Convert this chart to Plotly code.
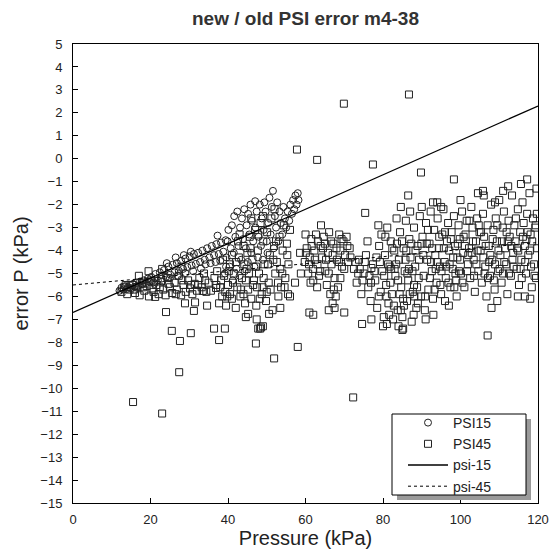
import plotly.graph_objects as go

# ---------------- data ----------------
# PSI15 (open circles)
psi15_x_a = [12.0,12.5,13.0,13.4,13.8,14.2,14.6,15.0,15.5,16.0,16.4,16.9,17.3,17.8,18.3,18.8,19.3,19.8]
psi15_y_a = [-5.75,-5.62,-5.70,-5.55,-5.68,-5.60,-5.50,-5.64,-5.45,-5.58,-5.40,-5.52,-5.35,-5.47,-5.30,-5.42,-5.22,-5.36]

psi15_x_b = [20.2,20.8,21.3,21.9,22.4,22.9,23.5,24.0,24.6,25.1,25.7,26.2,26.8,27.3,27.9,28.4,29.0,29.5,30.1,30.6,31.2,31.7,32.3,32.8,
             21.0,23.0,25.0,27.0,29.0,31.0,33.0,24.2,26.5,28.6,30.4]
psi15_y_b = [-5.15,-5.38,-5.02,-5.30,-4.95,-5.22,-4.85,-5.15,-4.70,-5.05,-4.62,-4.95,-4.55,-4.88,-4.45,-4.80,-4.35,-4.72,-4.25,-4.65,-4.15,-4.58,-4.10,-4.50,
             -5.45,-5.35,-5.20,-5.10,-4.98,-4.90,-4.78,-4.55,-4.30,-4.20,-4.05]

psi15_x_c = [33.4,34.0,34.6,35.2,35.8,36.4,37.0,37.6,38.2,38.8,39.4,34.2,35.5,36.8,38.0,39.5,37.3]
psi15_y_c = [-4.00,-4.40,-3.90,-4.30,-3.80,-4.20,-3.72,-4.15,-3.65,-4.05,-3.55,-4.60,-4.55,-4.50,-4.45,-4.70,-3.35]

psi15_x_d = [39.2,39.6,39.9,40.1,40.4,40.7,41.0,41.2,41.5,41.6,41.9,42.2,42.4,42.7,43.0,43.1,43.4,43.6,43.9,44.2,44.3,44.6,44.8,45.1,
             45.2,45.5,45.8,46.0,46.2,46.5,46.8,47.0,47.1,47.4,47.7,47.9,48.2,48.5,48.7,49.0,49.2,49.4,49.7,50.0,50.2,50.4,50.7,51.0,
             51.3,51.6,51.8,52.1,52.4,52.7,53.0,53.3,53.6,54.0,54.3,54.7,55.0,55.4,55.8,56.1,56.5,56.8,57.1,57.4,57.7,58.0,58.2]
psi15_y_d = [-5.0,-4.3,-3.6,-3.1,-4.7,-3.9,-2.9,-5.3,-4.1,-2.5,-3.4,-4.8,-2.3,-3.8,-5.1,-3.0,-4.4,-2.6,-3.5,-2.2,-4.9,-3.9,-2.9,-4.5,
             -2.4,-3.3,-2.0,-4.1,-2.7,-3.6,-4.7,-1.85,-3.0,-2.3,-4.3,-3.4,-2.0,-3.8,-2.6,-4.4,-3.1,-1.9,-2.3,-3.6,-4.1,-2.8,-1.7,-3.3,
             -2.1,-1.4,-3.9,-2.5,-3.0,-1.9,-3.6,-2.3,-2.8,-3.3,-2.1,-2.6,-3.0,-2.3,-2.7,-2.0,-2.4,-1.8,-2.2,-1.6,-2.0,-1.5,-1.8]

# PSI45 (open squares)
psi45_x_band = [12.5,13.2,14.0,14.6,15.3,16.0,16.6,17.2,17.8,18.4,19.0,19.6,20.2,20.8,21.5,22.1,22.7,23.3,23.9,24.4,25.0,25.6,26.2,26.8,
                27.3,27.9,28.5,29.1,29.7,30.2,30.8,31.4,32.0,32.6,33.2,33.8,34.4,35.0,19.5,23.0,17.0,28.0,
                13.6,15.7,18.1,20.5,22.4,24.7,26.5,28.2,30.5,32.3,34.1,35.6]
psi45_y_band = [-5.8,-5.6,-5.9,-5.7,-5.5,-5.85,-5.6,-5.95,-5.4,-5.75,-5.55,-6.0,-5.3,-5.8,-5.5,-5.9,-5.35,-5.7,-5.95,-5.2,-5.6,-5.85,-5.4,-5.7,
                -5.1,-5.95,-5.5,-5.8,-5.3,-5.65,-5.9,-5.45,-5.75,-5.2,-5.6,-5.0,-5.8,-5.4,-4.9,-4.8,-5.1,-4.7,
                -5.5,-5.7,-5.6,-5.65,-5.6,-5.45,-5.9,-5.3,-5.5,-5.5,-5.3,-5.75]

psi45_x_low = [21.2,24.0,25.5,27.6,30.4,27.4,28.9,31.5,31.2,34.6,37.7,36.4,39.2,37.7,15.5,23.0,36.9,33.5,40.5,45.2,47.2,47.4,51.9,58.0,
               72.3,85.0,107.0,47.8,48.5,44.6,50.6,48.3,49.0,56.0,61.0,62.0,70.0,74.6,77.0,80.0,85.2,97.0,108.0,114.8,116.6]
psi45_y_low = [-6.02,-6.68,-7.5,-7.94,-7.6,-9.3,-6.3,-6.26,-6.63,-6.4,-6.3,-7.4,-7.4,-7.9,-10.6,-11.1,-5.63,-5.76,-5.9,-6.76,-8.05,-7.0,-8.7,-8.2,
               -10.4,-7.46,-7.7,-7.4,-7.35,-6.9,-6.76,-7.4,-7.3,-6.0,-6.7,-6.8,-6.7,-7.2,-7.0,-7.3,-7.4,-6.4,-6.5,-6.0,-6.0]

psi45_x_high = [86.7,69.9,57.8,63.0,77.4,89.8,98.3,86.5,84.6,90.0,92.9,95.0,104.5,105.8,108.9,112.3,115.6,117.2,75.4,58.6,77.0]
psi45_y_high = [2.8,2.4,0.4,-0.05,-0.25,-0.6,-0.9,-1.6,-2.1,-2.1,-1.9,-2.1,-1.5,-1.4,-1.9,-1.2,-1.1,-0.9,-2.36,-4.1,-4.76]

psi45_x_mid = [36.5,37.2,38.0,38.5,39.0,39.5,40.0,40.5,41.0,41.5,42.0,42.4,42.8,43.2,43.6,44.0,44.4,44.8,45.2,45.6,46.0,46.3,46.7,47.0,
               47.3,47.7,48.0,48.4,48.7,49.1,49.4,49.8,50.1,50.5,50.8,51.2,51.5,51.9,52.2,52.6,53.0,53.3,53.7,54.1,54.4,54.8,55.2,55.6,
               56.0,46.0,43.0,49.0,52.0,45.0,47.5,50.0,41.0,44.0,53.5,55.5,38.7,
               37.0,38.2,39.3,40.2,41.3,42.1,43.3,44.2,45.4,46.5,47.2,48.2,49.2,50.3,51.0,52.4,53.5,54.6,55.3,42.6,45.8,48.9,51.7,54.0,
               39.8,44.6,47.8,52.9]
psi45_y_mid = [-5.2,-4.9,-5.6,-6.0,-5.1,-6.4,-5.5,-4.6,-6.1,-5.0,-6.5,-5.6,-4.3,-6.0,-5.2,-3.8,-6.3,-4.8,-5.7,-3.4,-6.1,-4.4,-5.3,-3.1,
               -6.4,-4.0,-5.0,-2.8,-5.9,-3.6,-4.6,-6.2,-3.2,-5.4,-4.2,-2.6,-6.6,-3.8,-5.0,-4.5,-6.0,-3.4,-5.6,-4.0,-2.9,-5.2,-3.7,-4.6,
               -3.1,-2.6,-3.3,-2.5,-2.2,-4.1,-5.6,-5.8,-4.2,-5.9,-6.5,-5.9,-4.4,
               -5.5,-5.3,-5.8,-4.9,-5.4,-4.5,-5.7,-4.6,-5.0,-5.5,-4.7,-6.1,-5.2,-4.6,-5.7,-3.6,-4.8,-5.6,-4.2,-3.6,-3.9,-5.6,-4.4,-5.0,
               -6.0,-5.3,-3.3,-5.4]

psi45_x_c60 = [59.8,60.3,60.7,61.1,61.5,61.9,62.3,62.7,63.1,63.5,63.9,64.3,64.7,65.1,65.5,65.8,66.1,66.4,66.7,67.0,67.2,67.5,67.8,68.1,
               68.4,68.7,69.0,69.4,69.8,70.2,70.6,71.0,71.4,64.0,62.0,66.0,67.5,60.0,58.8,57.3,
               60.1,60.9,61.6,62.4,63.2,63.8,64.5,65.3,66.0,66.6,67.3,68.0,68.6,69.3,70.0,70.8,71.6,61.3,63.0,65.0,67.0,69.0]
psi45_y_c60 = [-4.5,-3.9,-5.0,-4.3,-3.5,-4.8,-4.0,-3.3,-4.6,-5.1,-3.8,-4.3,-3.4,-4.9,-5.5,-4.1,-3.2,-5.9,-4.6,-6.3,-3.7,-5.2,-6.0,-4.4,
               -5.6,-3.3,-4.0,-4.7,-3.6,-4.2,-3.4,-4.5,-3.9,-2.9,-5.3,-6.6,-6.5,-3.3,-5.0,-5.4,
               -4.1,-4.6,-3.8,-4.4,-3.6,-4.9,-3.9,-4.4,-5.0,-3.6,-5.7,-3.9,-4.5,-3.5,-4.8,-3.8,-4.3,-5.4,-5.6,-3.7,-4.2,-5.2]

psi45_x_c80 = [72.5,73.2,73.8,74.4,75.0,75.6,76.2,76.8,77.4,78.0,78.5,79.0,79.4,79.8,78.8,79.6,76.0,
               72.9,73.6,74.7,75.3,76.5,77.8,78.3,79.2,74.0,76.9,78.9,
               80.2,80.5,80.8,81.1,81.4,81.7,82.0,82.3,82.6,82.9,83.2,83.5,83.8,84.1,84.4,84.7,85.0,85.3,85.6,85.9,86.2,86.5,86.8,
               87.1,87.4,87.7,88.0,88.3,88.6,88.9,89.2,89.5,89.8,84.0,81.0,86.0,83.0,88.0,80.6,87.0,
               80.3,80.9,81.3,81.9,82.4,82.8,83.4,83.9,84.3,84.9,85.4,85.8,86.3,86.9,87.3,87.9,88.4,88.8,89.3,89.9,
               81.6,83.6,85.2,87.6,89.0,82.1,84.6,86.7,88.1]
psi45_y_c80 = [-4.8,-5.4,-4.4,-5.9,-5.0,-4.2,-5.6,-6.2,-4.6,-5.3,-6.5,-3.8,-5.8,-4.9,-2.9,-3.3,-3.6,
               -4.5,-5.0,-5.3,-4.5,-5.1,-4.9,-4.3,-4.5,-4.8,-5.4,-6.0,
               -6.9,-4.2,-5.5,-3.0,-6.3,-4.7,-3.6,-5.9,-7.0,-4.0,-5.1,-2.6,-6.6,-4.4,-3.2,-5.6,-6.9,-3.9,-4.9,-2.7,-6.2,-5.3,-3.5,
               -4.3,-7.1,-5.8,-3.0,-4.7,-6.5,-3.8,-5.2,-2.5,-6.0,-7.3,-7.2,-4.0,-4.8,-5.5,-3.4,-2.3,
               -5.1,-6.0,-4.6,-5.4,-3.9,-6.4,-4.6,-5.3,-5.9,-3.6,-6.4,-4.4,-5.0,-5.9,-3.7,-6.8,-4.0,-5.6,-4.4,-3.7,
               -6.8,-3.7,-6.1,-4.9,-6.3,-4.8,-6.6,-4.8,-6.0]

psi45_x_c95 = [90.2,90.5,90.8,91.1,91.4,91.7,92.0,92.3,92.6,92.9,93.2,93.5,93.8,94.1,94.4,94.7,95.0,95.3,95.6,95.9,96.2,96.5,96.8,97.1,
               97.4,97.7,98.0,98.3,98.6,98.9,99.2,99.5,99.8,100.1,100.4,100.7,101.0,101.3,101.6,101.9,102.2,102.5,102.8,103.1,103.4,
               103.7,104.0,104.3,104.6,104.9,91.0,93.0,96.0,99.0,94.0,100.0,
               90.4,90.9,91.6,92.1,92.7,93.3,93.9,94.5,95.1,95.7,96.3,96.9,97.5,98.1,98.7,99.3,99.9,100.5,101.1,101.7,102.3,102.9,
               103.5,104.1,104.7,91.3,92.4,93.6,94.8,96.0,97.2,98.4,99.6,100.8,102.0,103.2,104.4]
psi45_y_c95 = [-3.4,-5.1,-6.6,-2.8,-4.4,-5.7,-3.7,-2.3,-4.9,-6.1,-3.1,-4.2,-5.4,-2.6,-3.9,-4.7,-5.9,-3.3,-2.2,-4.5,-5.2,-3.6,-2.8,-4.0,
               -5.6,-3.2,-4.8,-2.5,-3.8,-5.3,-4.3,-2.9,-3.5,-5.0,-2.3,-4.1,-5.6,-3.3,-2.7,-4.6,-3.9,-5.2,-2.1,-3.0,-4.4,
               -5.8,-3.6,-2.6,-4.9,-3.2,-7.0,-6.8,-6.2,-6.0,-1.9,-1.8,
               -4.2,-6.0,-3.1,-5.2,-3.9,-5.7,-4.5,-3.4,-4.9,-3.9,-4.7,-5.4,-3.5,-4.3,-5.0,-3.7,-4.4,-5.4,-3.8,-4.9,-2.7,-4.1,
               -5.1,-4.6,-2.9,-3.7,-4.5,-4.8,-5.5,-3.2,-4.6,-5.6,-4.9,-3.4,-4.2,-3.6,-4.0]

psi45_x_c110 = [105.2,105.5,105.8,106.1,106.4,106.7,107.0,107.3,107.6,107.9,108.2,108.5,108.8,109.1,109.4,109.7,110.0,110.3,110.6,
                110.9,111.2,111.5,111.8,112.1,112.4,112.7,113.0,113.3,113.6,113.9,114.2,114.5,114.8,115.1,115.4,115.7,116.0,116.3,
                116.6,116.9,117.2,117.5,117.8,118.1,118.4,118.7,119.0,119.3,119.6,119.8,106.0,109.5,111.0,118.0,119.5,
                105.3,105.9,106.5,107.1,107.7,108.3,108.9,109.5,110.1,110.7,111.3,111.9,112.5,113.1,113.7,114.3,114.9,115.5,116.1,
                116.7,117.3,117.9,118.5,119.1,119.7,106.2,107.4,108.6,109.8,111.0,112.2,113.4,114.6,115.8,117.0,118.2,119.4]
psi45_y_c110 = [-4.0,-5.4,-2.4,-3.4,-4.7,-6.0,-2.9,-3.8,-5.1,-2.0,-4.4,-3.1,-5.7,-2.6,-3.6,-4.9,-1.8,-4.2,-5.4,
                -3.0,-2.3,-3.9,-4.6,-5.9,-2.7,-3.4,-5.1,-1.6,-4.1,-2.9,-3.6,-4.8,-2.2,-5.5,-3.2,-4.4,-1.9,-2.8,
                -3.8,-5.0,-2.4,-4.2,-1.5,-3.3,-5.6,-2.6,-4.6,-3.0,-1.3,-3.9,-1.6,-6.2,-1.4,-6.1,-5.2,
                -3.2,-4.3,-3.8,-5.2,-4.2,-3.5,-4.6,-2.9,-4.8,-3.6,-4.5,-3.2,-5.0,-3.8,-4.7,-2.6,-4.0,-4.8,-3.4,
                -4.5,-3.2,-4.0,-3.6,-5.1,-2.4,-5.0,-4.5,-5.3,-4.0,-5.0,-3.6,-4.4,-3.9,-5.2,-3.5,-4.7,-2.9]

# fitted lines
psi15_line_x = [0, 120]
psi15_line_y = [-6.7, 2.3]
psi45_line_x = [0, 120]
psi45_line_y = [-5.5, -3.65]

x_ticks = [0, 20, 40, 60, 80, 100, 120]
y_ticks = list(range(-15, 6))

# ---------------- figure ----------------
psi15_x = psi15_x_a + psi15_x_b + psi15_x_c + psi15_x_d
psi15_y = psi15_y_a + psi15_y_b + psi15_y_c + psi15_y_d
psi45_x = psi45_x_band + psi45_x_low + psi45_x_high + psi45_x_mid + psi45_x_c60 + psi45_x_c80 + psi45_x_c95 + psi45_x_c110
psi45_y = psi45_y_band + psi45_y_low + psi45_y_high + psi45_y_mid + psi45_y_c60 + psi45_y_c80 + psi45_y_c95 + psi45_y_c110

FONT = "Liberation Sans, Arial, sans-serif"
INK = "#222222"

fig = go.Figure()
fig.add_trace(go.Scatter(x=psi45_x, y=psi45_y, mode="markers", name="PSI45", legendrank=2,
                         marker=dict(symbol="square-open", size=7, color=INK, line=dict(width=1, color=INK))))
fig.add_trace(go.Scatter(x=psi15_x, y=psi15_y, mode="markers", name="PSI15", legendrank=1,
                         marker=dict(symbol="circle-open", size=7, color=INK, line=dict(width=1, color=INK))))
fig.add_trace(go.Scatter(x=psi15_line_x, y=psi15_line_y, mode="lines", name="psi-15", legendrank=3,
                         line=dict(color="black", width=1.3)))
fig.add_trace(go.Scatter(x=psi45_line_x, y=psi45_line_y, mode="lines", name="psi-45", legendrank=4,
                         line=dict(color="black", width=1, dash="3px,3px")))

L, R, T, B = 73, 538, 44, 503
W, H = 554, 550
pw, ph = R - L, B - T

def px2paper(x, y):
    return (x - L) / pw, (B - y) / ph

# legend shadow and box
sx0, sy0 = px2paper(397, 500)
sx1, sy1 = px2paper(531, 419)
fig.add_shape(type="rect", xref="paper", yref="paper", x0=sx0, y0=sy0, x1=sx1, y1=sy1,
              fillcolor="#9a9a9a", line=dict(width=0), layer="above")
bx0, by0 = px2paper(392, 495)
bx1, by1 = px2paper(526, 414)
fig.add_shape(type="rect", xref="paper", yref="paper", x0=bx0, y0=by0, x1=bx1, y1=by1,
              fillcolor="white", line=dict(width=1, color="black"), layer="above")

lx, ly = px2paper(403, 407)

axis_common = dict(ticks="inside", ticklen=5, tickcolor="black", showline=True, linecolor="black",
                   linewidth=1, mirror=True, showgrid=False, zeroline=False, automargin=False,
                   tickfont=dict(size=13))

fig.update_layout(
    width=W, height=H,
    margin=dict(l=L, r=W - R, t=T, b=H - B),
    paper_bgcolor="white", plot_bgcolor="white",
    font=dict(family=FONT, color=INK, size=13),
    title=dict(text="<b>new / old PSI error m4-38</b>", x=(L + R) / 2 / W, xanchor="center",
               y=1 - 18 / H, yanchor="middle", font=dict(size=19, color="#333333")),
    showlegend=True,
    legend=dict(x=lx, y=ly, xanchor="left", yanchor="top",
                bgcolor="rgba(0,0,0,0)", borderwidth=0,
                font=dict(size=14, color=INK), traceorder="normal",
                itemwidth=40, tracegroupgap=0),
    xaxis=dict(range=[0, 120], tickvals=x_ticks, ticklabelstandoff=4,
               title=dict(text="Pressure (kPa)", font=dict(size=20), standoff=5), **axis_common),
    yaxis=dict(range=[-15, 5], tickvals=y_ticks, ticklabelstandoff=7,
               title=dict(text="error P (kPa)", font=dict(size=20), standoff=6), **axis_common),
)

fig.write_html("out.html", post_script="document.body.style.margin='0px';",
               config={"displayModeBar": False})
